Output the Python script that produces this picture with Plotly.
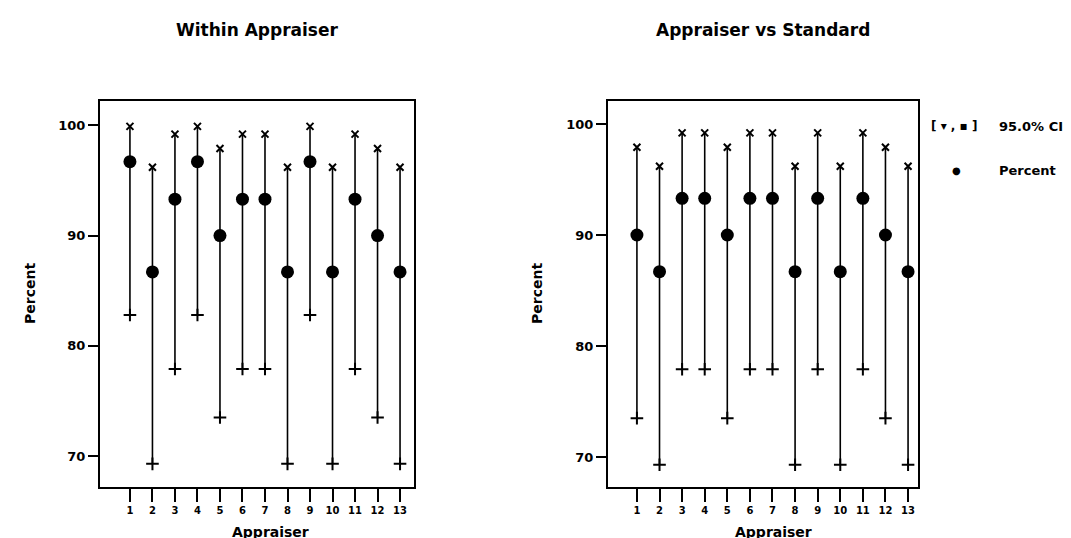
import plotly.graph_objects as go

appraisers = list(range(1, 14))
tick_labels = [str(i) for i in appraisers]

within_pct = [96.7, 86.7, 93.3, 96.7, 90.0, 93.3, 93.3, 86.7, 96.7, 86.7, 93.3, 90.0, 86.7]
within_upper = [99.9, 96.2, 99.2, 99.9, 97.9, 99.2, 99.2, 96.2, 99.9, 96.2, 99.2, 97.9, 96.2]
within_lower = [82.8, 69.3, 77.9, 82.8, 73.5, 77.9, 77.9, 69.3, 82.8, 69.3, 77.9, 73.5, 69.3]

std_pct = [90.0, 86.7, 93.3, 93.3, 90.0, 93.3, 93.3, 86.7, 93.3, 86.7, 93.3, 90.0, 86.7]
std_upper = [97.9, 96.2, 99.2, 99.2, 97.9, 99.2, 99.2, 96.2, 99.2, 96.2, 99.2, 97.9, 96.2]
std_lower = [73.5, 69.3, 77.9, 77.9, 73.5, 77.9, 77.9, 69.3, 77.9, 69.3, 77.9, 73.5, 69.3]

W, H = 1071, 538
FONT = "DejaVu Sans, Liberation Sans, Arial, sans-serif"

fig = go.Figure()


def add_panel(xa, ya, pct, up, lo):
    xs, ys = [], []
    for x, u, l in zip(appraisers, up, lo):
        xs += [x, x, None]
        ys += [l, u, None]
    fig.add_trace(go.Scatter(x=xs, y=ys, mode="lines", xaxis=xa, yaxis=ya,
                             line=dict(color="black", width=1.6), showlegend=False,
                             hoverinfo="skip"))
    fig.add_trace(go.Scatter(x=appraisers, y=up, mode="markers", xaxis=xa, yaxis=ya,
                             marker=dict(symbol="x-thin", size=7, color="black",
                                         line=dict(color="black", width=2)),
                             showlegend=False))
    fig.add_trace(go.Scatter(x=appraisers, y=lo, mode="markers", xaxis=xa, yaxis=ya,
                             marker=dict(symbol="cross-thin", size=9, color="black",
                                         line=dict(color="black", width=2)),
                             showlegend=False))
    fig.add_trace(go.Scatter(x=appraisers, y=pct, mode="markers", xaxis=xa, yaxis=ya,
                             marker=dict(symbol="circle", size=13, color="black"),
                             showlegend=False))


add_panel("x", "y", within_pct, within_upper, within_lower)
add_panel("x2", "y2", std_pct, std_upper, std_lower)

axis_common = dict(showline=True, mirror=True, linecolor="black", linewidth=2,
                   showgrid=False, zeroline=False, ticks="outside", tickcolor="black",
                   tickwidth=2)

xcommon = dict(axis_common, tickmode="array", tickvals=appraisers, ticktext=tick_labels,
               ticklen=13,
               tickfont=dict(family=FONT, size=10, color="black", weight="bold"))
ycommon = dict(axis_common, tickmode="array", tickvals=[70, 80, 90, 100], ticklen=10,
               tickfont=dict(family=FONT, size=13, color="black", weight="bold"))

y0 = 1 - 479 / H
y1 = 1 - 93 / H


def txt(text, x, y, size, xanchor="center", angle=0):
    return dict(text=text, x=x / W, y=1 - y / H, xref="paper", yref="paper",
                showarrow=False, xanchor=xanchor, yanchor="middle", textangle=angle,
                font=dict(family=FONT, size=size, color="black", weight="bold"))


fig.update_layout(
    width=W, height=H,
    margin=dict(l=0, r=0, t=0, b=0),
    paper_bgcolor="white", plot_bgcolor="white",
    showlegend=False,
    xaxis=dict(xcommon, domain=[92 / W, 406 / W], range=[-0.33, 13.62]),
    yaxis=dict(ycommon, domain=[y0, y1], range=[67.2, 102.2]),
    xaxis2=dict(xcommon, domain=[600 / W, 910 / W], range=[-0.28, 13.44], anchor="y2"),
    yaxis2=dict(ycommon, domain=[y0, y1], range=[67.3, 102.07], anchor="x2"),
    annotations=[
        txt("Within Appraiser", 249, 22, 17),
        txt("Appraiser vs Standard", 755, 22, 17),
        txt("Appraiser", 262, 524, 14),
        txt("Appraiser", 765, 524, 14),
        txt("Percent", 22, 286, 14, angle=-90),
        txt("Percent", 529, 286, 14, angle=-90),
        txt("[ ▾ , ▪ ]", 921, 118, 12, xanchor="left"),
        txt("95.0% CI", 989, 118, 13, xanchor="left"),
        txt("●", 948, 163, 10),
        txt("Percent", 989, 163, 13, xanchor="left"),
    ],
)

fig.write_html("out.html")
